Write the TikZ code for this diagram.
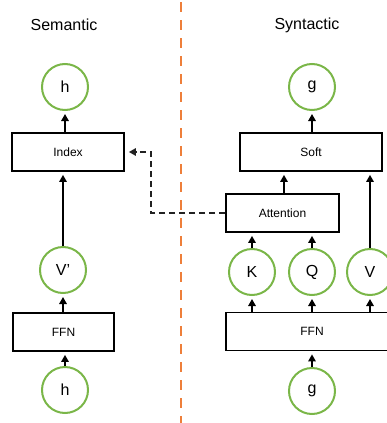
\documentclass[tikz,border=0pt]{standalone}
\usepackage{fontspec}
\setmainfont{Liberation Sans}
\usepackage{xcolor}
\usepackage{tikz}
\usetikzlibrary{arrows.meta, positioning}
\definecolor{sdGreen}{HTML}{7AB648}
\definecolor{sdOrange}{HTML}{EE7F3A}
\definecolor{sdDash}{HTML}{222222}

\begin{document}
\begin{tikzpicture}[
  x=1pt, y=-1pt,
  vec/.style={circle, draw=sdGreen, line width=2pt, minimum size=46pt, inner sep=0pt,
              font=\fontsize{16}{19}\selectfont},
  box/.style={draw, line width=1.8pt, minimum height=38pt, inner sep=0pt,
              font=\fontsize{12}{14}\selectfont},
  head/.style={font=\fontsize{16}{19}\selectfont},
  arr/.style={-{Triangle[length=7pt,width=7.5pt]}, line width=1.5pt, shorten >=3pt},
  link/.style={-{Triangle[length=7pt,width=7.5pt]}, line width=1.5pt, color=sdDash,
               dash pattern=on 6pt off 4pt, shorten >=4pt}
]
\useasboundingbox (0,0) rectangle (387,423);
\clip (0,0) rectangle (387,423);

% Semantic side
\node[head] (semT) at (64,25) {Semantic};
\node[vec] (hOut) at (65,87) {h};
\node[box, minimum width=112pt] (idx) at (68,152) {Index};
\node[vec] (vp) at (63,270) {V'};
\node[box, minimum width=101pt] (ffnL) at (63.5,332) {FFN};
\node[vec] (hIn) at (65,390) {h};

% Syntactic side
\node[head] (synT) at (307,25) {Syntactic};
\node[vec] (gOut) at (312,87) {g};
\node[box, minimum width=142pt] (soft) at (311,152) {Soft};
\node[box, minimum width=113pt] (att) at (282.5,213) {Attention};
\node[vec] (k) at (252,272) {K};
\node[vec] (q) at (312,272) {Q};
\node[vec] (v) at (370,272) {V};
\node[box, minimum width=172pt] (ffnR) at (312,331.5) {FFN};
\node[vec] (gIn) at (312,391) {g};

% divider
\draw[sdOrange, line width=2pt, dash pattern=on 10pt off 8pt] (181,2) -- (181,423);

\draw[arr] (hIn) -- (hIn |- ffnL.south);
\draw[arr] (ffnL.north -| vp) -- (vp);
\draw[arr] (vp) -- (vp |- idx.south);
\draw[arr] (idx.north -| hOut) -- (hOut);

\draw[arr] (gIn) -- (gIn |- ffnR.south);
\foreach \c in {k, q, v}
  \draw[arr] (ffnR.north -| \c) -- (\c);
\draw[arr] (k) -- (k |- att.south);
\draw[arr] (q) -- (q |- att.south);
\draw[arr] (v) -- (v |- soft.south);
\draw[arr] ([xshift=1.5pt]att.north) -- ([xshift=1.5pt]att.north |- soft.south);
\draw[arr] (soft.north -| gOut) -- (gOut);

\draw[link] (att.west) -- ++(-74,0) |- (idx.east);

\end{tikzpicture}
\end{document}
